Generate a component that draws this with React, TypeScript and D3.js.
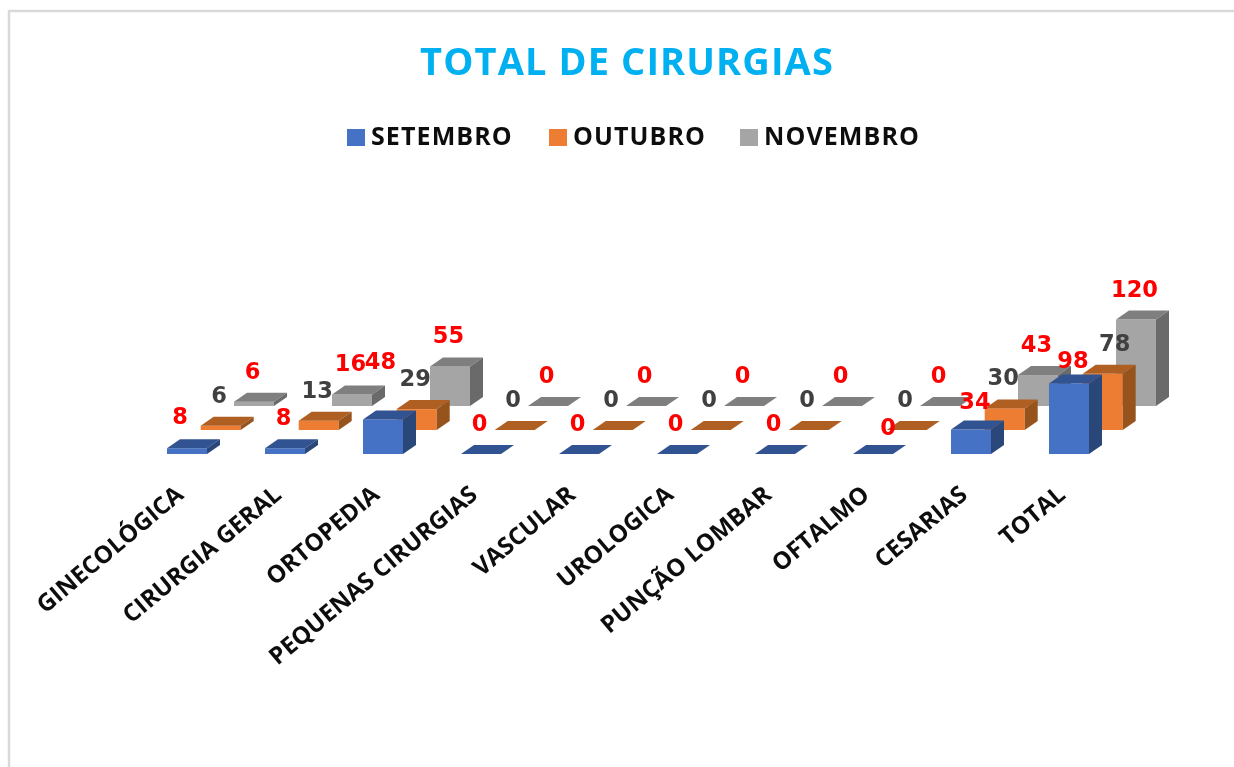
import React from "react";
import * as d3 from "d3";

const categories = ["GINECOLÓGICA", "CIRURGIA GERAL", "ORTOPEDIA", "PEQUENAS CIRURGIAS", "VASCULAR", "UROLOGICA", "PUNÇÃO LOMBAR", "OFTALMO", "CESARIAS", "TOTAL"];
const setembro = [8, 8, 48, 0, 0, 0, 0, 0, 34, 98];
const outubro = [6, 13, 29, 0, 0, 0, 0, 0, 30, 78];
const novembro = [6, 16, 55, 0, 0, 0, 0, 0, 43, 120];

const W = 1234;
const H = 767;
const font = "'Open Sans', sans-serif";

// bars are faked 3d: each series sits on its own floor line further back
const series = [
  { name: "NOVEMBRO", values: novembro, left: 234, floor: 406, front: "#a5a5a5", top: "#7f7f7f", side: "#6b6b6b", label: "#ff0000" },
  { name: "OUTUBRO", values: outubro, left: 200.7, floor: 430, front: "#ed7d31", top: "#b05f24", side: "#96531f", label: "#404040" },
  { name: "SETEMBRO", values: setembro, left: 167, floor: 454, front: "#4472c4", top: "#325391", side: "#2a4679", label: "#ff0000" },
];
const legendItems = [
  { name: "SETEMBRO", color: "#4472c4", x: 347, tx: 371 },
  { name: "OUTUBRO", color: "#ed7d31", x: 549, tx: 573 },
  { name: "NOVEMBRO", color: "#a5a5a5", x: 740, tx: 764 },
];

const barW = 40;
const depthX = 13;
const depthY = 9;

const xCat = d3.scaleLinear().domain([0, 9]).range([0, 882]);
const yVal = d3.scaleLinear().domain([0, 120]).range([0, 86.4]);

// some labels were dragged by hand in the original
const nudges: Record<string, [number, number]> = {
  "SETEMBRO-0": [-5.5, -1],
  "SETEMBRO-2": [-1, -27],
  "SETEMBRO-7": [16.5, 4],
  "SETEMBRO-8": [5.5, 2.5],
  "SETEMBRO-9": [5.5, 8],
  "OUTUBRO-9": [13.5, 0],
};

function Bar({ x, floor, h, s }: { x: number; floor: number; h: number; s: (typeof series)[number] }) {
  const t = floor - h;
  const top = d3.path();
  top.moveTo(x, t);
  top.lineTo(x + depthX, t - depthY);
  top.lineTo(x + barW + depthX, t - depthY);
  top.lineTo(x + barW, t);
  top.closePath();
  const side = d3.path();
  side.moveTo(x + barW, t);
  side.lineTo(x + barW + depthX, t - depthY);
  side.lineTo(x + barW + depthX, floor - depthY);
  side.lineTo(x + barW, floor);
  side.closePath();
  return (
    <g>
      {h > 0 && <rect x={x} y={t} width={barW} height={h} fill={s.front} />}
      <path d={top.toString()} fill={s.top} />
      {h > 0 && <path d={side.toString()} fill={s.side} />}
    </g>
  );
}

export default function App() {
  return (
    <svg width={W} height={H} style={{ position: "absolute", left: 0, top: 0, background: "#fff" }} fontFamily={font}>
      <defs>
        <filter id="soft" x="0" y="0" width="100%" height="100%">
          <feGaussianBlur stdDeviation={0.45} />
        </filter>
      </defs>
      <g filter="url(#soft)">
        <rect width={W} height={H} fill="#fff" />
        <path d={`M9 ${H}V11H${W}`} fill="none" stroke="#d9d9d9" strokeWidth={2.5} />
        <text x={627} y={75} textAnchor="middle" fontSize={38} fontWeight={700} letterSpacing={1.1} fill="#00b0f0">TOTAL DE CIRURGIAS</text>
        {legendItems.map((d) => (
          <g key={d.name}>
            <rect x={d.x} y={129} width={18} height={17} fill={d.color} />
            <text x={d.tx} y={145} fontSize={25} fontWeight={700} letterSpacing={1.1} fill="#111">{d.name}</text>
          </g>
        ))}
        {series.map((s) => (
          <g key={s.name}>
            {s.values.map((v, i) => (
              <Bar key={i} x={s.left + xCat(i)} floor={s.floor} h={yVal(v)} s={s} />
            ))}
          </g>
        ))}
        {series.map((s) => (
          <g key={s.name}>
            {s.values.map((v, i) => {
              const n = nudges[`${s.name}-${i}`] || [0, 0];
              return (
                <text key={i} x={s.left + xCat(i) + barW / 2 - 1.5 + n[0]} y={s.floor - yVal(v) - 31 + n[1] + 8} textAnchor="middle" fontFamily="'DejaVu Sans', sans-serif" fontSize={22.5} fontWeight={700} fill={s.label}>{v}</text>
              );
            })}
          </g>
        ))}
        {categories.map((c, i) => (
          <text key={c} transform={`translate(${185 + xCat(i)},497) rotate(-40)`} textAnchor="end" fontSize={24} fontWeight={700} fill="#111">{c}</text>
        ))}
      </g>
    </svg>
  );
}
